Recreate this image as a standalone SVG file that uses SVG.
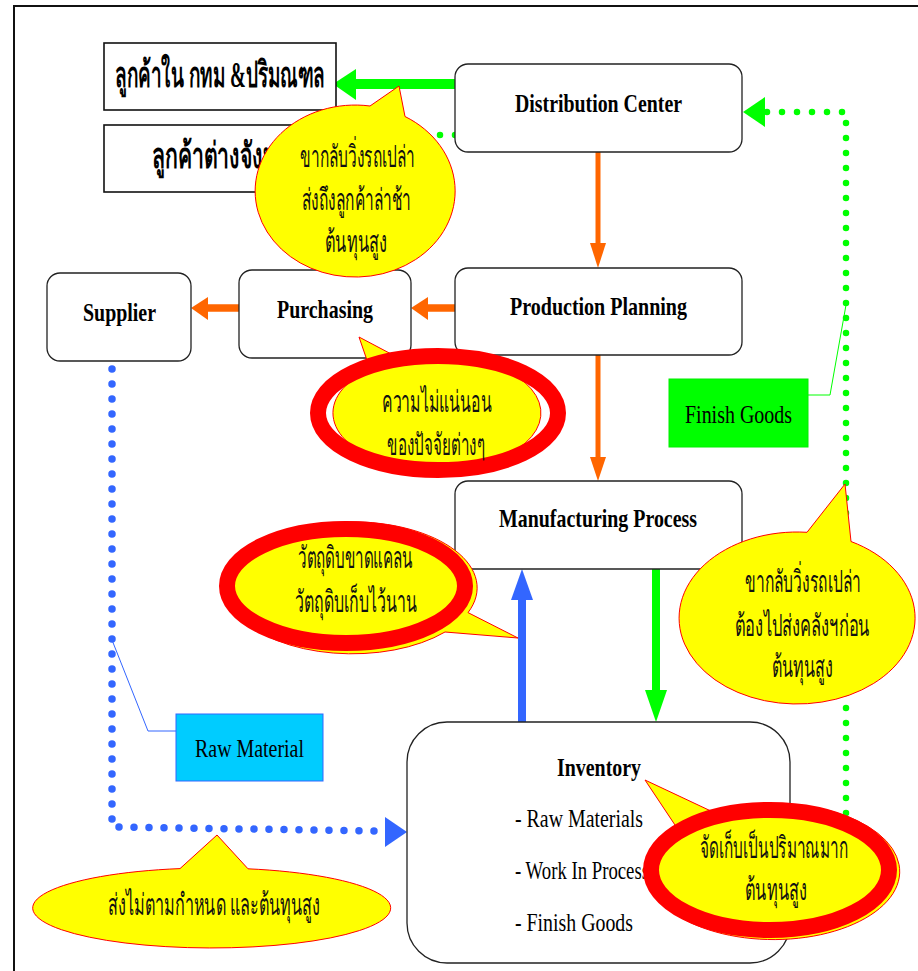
<svg xmlns="http://www.w3.org/2000/svg" width="918" height="971" viewBox="0 0 918 971">
<style>
.box{fill:#fff;stroke:#222;stroke-width:1.3}
.sq{fill:#fff;stroke:#111;stroke-width:1.6}
.lt{font-family:'Liberation Serif',serif;font-size:26px;fill:#000}
.b{font-weight:bold}
.th{font-family:'Liberation Serif','Noto Sans','DejaVu Sans',serif;font-size:30px;fill:#111}
.thb{font-family:'Liberation Serif','Noto Sans','DejaVu Sans',serif;font-size:36px;font-weight:bold;fill:#000}
.call{fill:#ffff00;stroke:#ff0000;stroke-width:1}
.ring{fill:none;stroke:#ff0000;stroke-width:16}
.or{stroke:#ff6600;fill:none}
.orf{fill:#ff6600}
.gr{stroke:#00ff00;fill:none}
.grf{fill:#00ff00}
.bl{stroke:#3366ff;fill:none}
.blf{fill:#3366ff}
.dotb{stroke:#3366ff;stroke-width:7.5;stroke-linecap:round;stroke-dasharray:0 15;fill:none}
.dotg{stroke:#00ff00;stroke-width:6.5;stroke-linecap:round;stroke-dasharray:0 15;fill:none}
</style>
<rect x="14" y="6" width="930" height="990" fill="#fff" stroke="#111" stroke-width="2"/>

<g id="connectors">
  <line class="gr" x1="456" y1="84" x2="355" y2="84" stroke-width="10"/>
  <polygon class="grf" points="333,84 356,69 356,100"/>
  <line class="dotg" x1="455" y1="135" x2="340" y2="135"/>
  <line class="or" x1="598" y1="152" x2="598" y2="244" stroke-width="5"/>
  <polygon class="orf" points="598,268 590,243 606,243"/>
  <line class="or" x1="456" y1="308" x2="427" y2="308" stroke-width="7.5"/>
  <polygon class="orf" points="411,308 428,297 428,320"/>
  <line class="or" x1="240" y1="308" x2="207" y2="308" stroke-width="7.5"/>
  <polygon class="orf" points="191,308 208,297 208,320"/>
  <line class="or" x1="598" y1="355" x2="598" y2="458" stroke-width="5"/>
  <polygon class="orf" points="598,481 590,457 606,457"/>
  <line class="gr" x1="656" y1="569" x2="656" y2="691" stroke-width="8"/>
  <polygon class="grf" points="656,722 645,690 667,690"/>
  <line class="bl" x1="522" y1="722" x2="522" y2="599" stroke-width="8"/>
  <polygon class="blf" points="522,569 511,600 533,600"/>
  <path class="dotb" d="M112,369 L112,827 L380,831"/>
  <polygon class="blf" points="407,832 385,817 385,847"/>
  <path class="dotg" d="M846,828 L846,112 L766,112"/>
  <polygon class="grf" points="743,112 765,97 765,127"/>
  <polyline points="808,395 830,395 846,305" fill="none" stroke="#00ff00" stroke-width="1"/>
  <polyline points="176,731 148,731 112,640" fill="none" stroke="#3366ff" stroke-width="1"/>
</g>

<g id="cust-bkk">
  <rect class="sq" x="104" y="43" width="232" height="67"/>
  <text class="thb" x="115" y="87" textLength="210" lengthAdjust="spacingAndGlyphs">ลูกค้าใน กทม &amp;ปริมณฑล</text>
</g>
<g id="cust-province">
  <rect class="sq" x="104" y="125" width="232" height="67"/>
  <text class="thb" x="152" y="168" textLength="150" lengthAdjust="spacingAndGlyphs">ลูกค้าต่างจังหวัด</text>
</g>
<g id="distribution-center">
  <rect class="box" x="455" y="64" width="287" height="88" rx="13"/>
  <text class="lt b" x="515" y="112" textLength="167" lengthAdjust="spacingAndGlyphs">Distribution Center</text>
</g>
<g id="production-planning">
  <rect class="box" x="455" y="268" width="287" height="87" rx="13"/>
  <text class="lt b" x="510" y="315" textLength="177" lengthAdjust="spacingAndGlyphs">Production Planning</text>
</g>
<g id="purchasing">
  <rect class="box" x="239" y="270" width="172" height="88" rx="13"/>
  <text class="lt b" x="277" y="318" textLength="96" lengthAdjust="spacingAndGlyphs">Purchasing</text>
</g>
<g id="supplier">
  <rect class="box" x="47" y="273" width="144" height="88" rx="13"/>
  <text class="lt b" x="83" y="321" textLength="73" lengthAdjust="spacingAndGlyphs">Supplier</text>
</g>
<g id="manufacturing-process">
  <rect class="box" x="455" y="481" width="287" height="88" rx="13"/>
  <text class="lt b" x="499" y="527" textLength="198" lengthAdjust="spacingAndGlyphs">Manufacturing Process</text>
</g>
<g id="inventory">
  <rect class="box" x="407" y="722" width="383" height="241" rx="40"/>
  <text class="lt b" x="557" y="776" textLength="84" lengthAdjust="spacingAndGlyphs">Inventory</text>
  <text class="lt" x="515" y="827" textLength="128" lengthAdjust="spacingAndGlyphs">- Raw Materials</text>
  <text class="lt" x="515" y="879" textLength="134" lengthAdjust="spacingAndGlyphs">- Work In Process</text>
  <text class="lt" x="515" y="931" textLength="118" lengthAdjust="spacingAndGlyphs">- Finish Goods</text>
</g>
<g id="finish-goods-label">
  <rect x="669" y="379" width="139" height="68" fill="#00ff00" stroke="#00ee00" stroke-width="1"/>
  <text class="lt" x="685" y="423" textLength="107" lengthAdjust="spacingAndGlyphs">Finish Goods</text>
</g>
<g id="raw-material-label">
  <rect x="176" y="714" width="147" height="67" fill="#00ccff" stroke="#3366ff" stroke-width="1"/>
  <text class="lt" x="195" y="757" textLength="109" lengthAdjust="spacingAndGlyphs">Raw Material</text>
</g>

<g id="callout-delivery">
  <path class="call" d="M370,106 L399,86 L405,116.5 A100,86 0 1,1 370,106 Z"/>
  <text class="th" x="300" y="167" textLength="115" lengthAdjust="spacingAndGlyphs">ขากลับวิ่งรถเปล่า</text>
  <text class="th" x="302" y="210" textLength="109" lengthAdjust="spacingAndGlyphs">ส่งถึงลูกค้าล่าช้า</text>
  <text class="th" x="325" y="252" textLength="62" lengthAdjust="spacingAndGlyphs">ต้นทุนสูง</text>
</g>
<g id="callout-uncertainty">
  <path class="call" d="M370.1,369.3 L359,337 L401.4,359.4 A104,57 0 1,1 370.1,369.3 Z"/>
  <ellipse class="ring" cx="438" cy="413" rx="120" ry="57"/>
  <text class="th" x="382" y="412" textLength="110" lengthAdjust="spacingAndGlyphs">ความไม่แน่นอน</text>
  <text class="th" x="387" y="455" textLength="98" lengthAdjust="spacingAndGlyphs">ของปัจจัยต่างๆ</text>
</g>
<g id="callout-material">
  <path class="call" d="M468,612.6 L518,638 L445,632 A125,66 0 1,1 468,612.6 Z"/>
  <ellipse class="ring" cx="346" cy="586" rx="119" ry="57"/>
  <text class="th" x="298" y="568" textLength="115" lengthAdjust="spacingAndGlyphs">วัตถุดิบขาดแคลน</text>
  <text class="th" x="295" y="612" textLength="122" lengthAdjust="spacingAndGlyphs">วัตถุดิบเก็บไว้นาน</text>
</g>
<g id="callout-warehouse">
  <path class="call" d="M807,532.3 L845,484 L851,541.5 A118,86 0 1,1 807,532.3 Z"/>
  <text class="th" x="745" y="592" textLength="116" lengthAdjust="spacingAndGlyphs">ขากลับวิ่งรถเปล่า</text>
  <text class="th" x="735" y="636" textLength="135" lengthAdjust="spacingAndGlyphs">ต้องไปส่งคลังฯก่อน</text>
  <text class="th" x="772" y="677" textLength="61" lengthAdjust="spacingAndGlyphs">ต้นทุนสูง</text>
</g>
<g id="callout-storage">
  <path class="call" d="M677,828 L645,780 L713,812 A126,68 0 1,1 677,828 Z"/>
  <ellipse class="ring" cx="770" cy="870" rx="119" ry="60"/>
  <text class="th" x="700" y="858" textLength="148" lengthAdjust="spacingAndGlyphs">จัดเก็บเป็นปริมาณมาก</text>
  <text class="th" x="745" y="900" textLength="62" lengthAdjust="spacingAndGlyphs">ต้นทุนสูง</text>
</g>
<g id="callout-late">
  <path class="call" d="M180,868.6 L217,835 L248,868.8 A179,40 0 1,1 180,868.6 Z"/>
  <text class="th" x="108" y="915" textLength="212" lengthAdjust="spacingAndGlyphs">ส่งไม่ตามกำหนด และต้นทุนสูง</text>
</g>
</svg>
